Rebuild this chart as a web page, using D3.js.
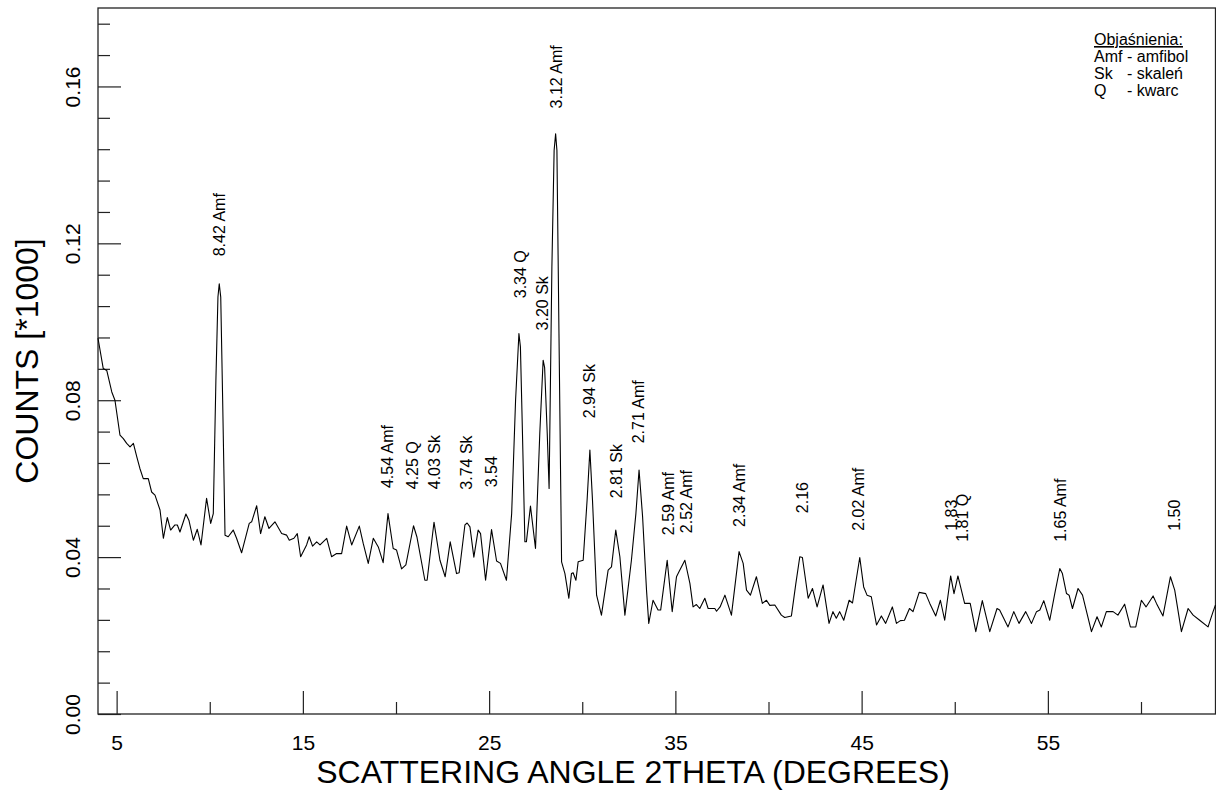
<!DOCTYPE html>
<html>
<head>
<meta charset="utf-8">
<script src="https://cdn.jsdelivr.net/npm/d3@7"></script>
<style>
  body { margin: 0; background: #fff; }
  text { font-family: "Liberation Sans", Arial, Helvetica, sans-serif; fill: #000; }
</style>
</head>
<body>
<div id="chart"></div>
<script>
// 2theta (degrees)
var twoTheta = [4.00,4.28,4.47,4.74,4.91,5.18,5.36,5.54,5.72,5.90,6.08,6.25,6.43,6.70,6.88,7.06,7.33,7.51,7.72,7.90,
  8.13,8.26,8.40,8.72,8.88,9.12,9.33,9.53,9.83,10.05,10.19,10.33,10.44,10.51,10.59,10.69,10.82,10.99,11.26,11.44,
  11.71,12.12,12.25,12.52,12.73,12.96,13.18,13.50,13.86,14.13,14.27,14.52,14.70,14.88,15.20,15.34,15.52,15.74,15.92,16.28,
  16.54,16.81,17.08,17.35,17.62,18.03,18.24,18.51,18.78,19.05,19.31,19.57,19.85,20.03,20.30,20.53,20.94,21.12,21.55,21.67,
  22.04,22.36,22.64,22.91,23.25,23.39,23.70,23.82,23.97,24.18,24.41,24.54,24.81,25.13,25.40,25.61,25.93,26.21,26.42,26.60,
  26.68,26.79,26.92,27.00,27.22,27.49,27.72,27.90,27.98,28.12,28.22,28.37,28.49,28.57,28.64,28.75,28.89,29.07,29.28,29.42,
  29.51,29.66,29.78,30.05,30.26,30.41,30.55,30.77,31.03,31.39,31.57,31.80,32.02,32.29,32.64,32.88,33.05,33.24,33.45,33.57,
  33.80,34.07,34.21,34.56,34.83,35.06,35.20,35.51,35.78,35.95,36.13,36.31,36.58,36.76,37.12,37.21,37.40,37.66,38.01,38.42,
  38.64,38.82,39.03,39.35,39.67,39.89,40.07,40.34,40.69,40.87,41.23,41.46,41.68,41.82,42.13,42.36,42.61,42.93,43.25,43.46,
  43.64,43.82,44.04,44.33,44.51,44.90,45.11,45.29,45.52,45.80,46.06,46.29,46.65,46.87,47.08,47.30,47.57,47.76,48.09,48.44,
  48.66,48.98,49.23,49.46,49.78,49.96,50.17,50.53,50.83,51.13,51.48,51.88,52.27,52.41,52.86,53.17,53.45,53.81,54.12,54.39,
  54.57,54.78,55.10,55.37,55.64,55.78,56.00,56.14,56.32,56.62,56.86,57.34,57.64,57.87,58.14,58.50,58.76,59.12,59.43,59.72,
  60.02,60.27,60.65,60.83,61.18,61.58,61.81,62.17,62.53,62.80,63.15,63.60,63.87,64.00];

// counts [*1000]
var counts = [0.0958,0.0881,0.0876,0.0821,0.0800,0.0711,0.0702,0.0690,0.0681,0.0690,0.0656,0.0626,0.0600,0.0600,0.0566,0.0558,0.0520,0.0448,0.0501,0.0469,
  0.0482,0.0482,0.0464,0.0510,0.0494,0.0443,0.0471,0.0431,0.0550,0.0486,0.0511,0.0851,0.1063,0.1097,0.1063,0.0808,0.0456,0.0452,0.0469,0.0448,
  0.0411,0.0486,0.0490,0.0531,0.0460,0.0503,0.0473,0.0490,0.0460,0.0456,0.0443,0.0448,0.0460,0.0401,0.0431,0.0452,0.0428,0.0439,0.0431,0.0448,
  0.0401,0.0409,0.0409,0.0479,0.0431,0.0479,0.0435,0.0384,0.0448,0.0426,0.0386,0.0511,0.0422,0.0418,0.0370,0.0380,0.0480,0.0452,0.0341,0.0341,
  0.0489,0.0392,0.0350,0.0439,0.0358,0.0360,0.0482,0.0487,0.0477,0.0400,0.0469,0.0460,0.0341,0.0470,0.0390,0.0384,0.0341,0.0511,0.0800,0.0970,
  0.0936,0.0715,0.0439,0.0439,0.0530,0.0422,0.0715,0.0902,0.0883,0.0715,0.0575,0.1140,0.1437,0.1479,0.1437,0.0970,0.0388,0.0358,0.0295,0.0358,
  0.0360,0.0341,0.0388,0.0392,0.0545,0.0673,0.0545,0.0303,0.0252,0.0367,0.0375,0.0469,0.0401,0.0252,0.0392,0.0511,0.0622,0.0503,0.0316,0.0231,
  0.0290,0.0265,0.0265,0.0392,0.0261,0.0350,0.0363,0.0392,0.0333,0.0273,0.0279,0.0269,0.0295,0.0269,0.0269,0.0262,0.0273,0.0303,0.0252,0.0414,
  0.0384,0.0316,0.0303,0.0350,0.0282,0.0290,0.0277,0.0278,0.0252,0.0246,0.0250,0.0330,0.0401,0.0399,0.0295,0.0320,0.0273,0.0329,0.0231,0.0261,
  0.0244,0.0261,0.0239,0.0290,0.0283,0.0399,0.0324,0.0303,0.0299,0.0227,0.0250,0.0231,0.0273,0.0231,0.0238,0.0239,0.0269,0.0261,0.0310,0.0307,
  0.0282,0.0250,0.0290,0.0239,0.0352,0.0307,0.0352,0.0282,0.0282,0.0210,0.0289,0.0210,0.0269,0.0265,0.0222,0.0261,0.0231,0.0261,0.0231,0.0261,
  0.0265,0.0289,0.0239,0.0307,0.0371,0.0358,0.0307,0.0303,0.0269,0.0320,0.0303,0.0210,0.0248,0.0222,0.0261,0.0261,0.0252,0.0280,0.0222,0.0222,
  0.0290,0.0273,0.0301,0.0282,0.0250,0.0350,0.0316,0.0210,0.0269,0.0252,0.0239,0.0222,0.0261,0.0278];

// peak annotations: d-spacing label, 2theta position, level where label starts
var peakLabels = ["8.42 Amf","4.54 Amf","4.25 Q","4.03 Sk","3.74 Sk","3.54","3.34 Q","3.20 Sk","3.12 Amf","2.94 Sk",
  "2.81 Sk","2.71 Amf","2.59 Amf","2.52 Amf","2.34 Amf","2.16","2.02 Amf","1.83","1.81 Q","1.65 Amf","1.50"];
var peakTheta = [10.50,19.54,20.88,22.04,23.77,25.13,26.67,27.86,28.59,30.38,
  31.82,33.03,34.60,35.60,38.44,41.79,44.83,49.79,50.38,55.66,61.80];
var peakLabelLevel = [0.1167,0.0576,0.0573,0.0573,0.0572,0.0578,0.1060,0.0978,0.1544,0.0754,
  0.0550,0.0690,0.0456,0.0461,0.0477,0.0512,0.0467,0.0467,0.0439,0.0439,0.0467];

var xMajorTicks = [5, 15, 25, 35, 45, 55];
var xMinorTicks = [10, 20, 30, 40, 50, 60];
var yMajorTicks = [0, 0.04, 0.08, 0.12, 0.16];

var legendTitle = "Objaśnienia:";
var legendAbbr = ["Amf", "Sk", "Q"];
var legendDesc = ["- amfibol", "- skaleń", "- kwarc"];

var width = 1216, height = 791;
var margin = {left: 98, right: 0.5, top: 8, bottom: 77};

var svg = d3.select("#chart").append("svg")
  .attr("width", width)
  .attr("height", height);

svg.append("rect").attr("width", width).attr("height", height).attr("fill", "#fff");

var x = d3.scaleLinear().domain([4, 64]).range([margin.left, width - margin.right]);
var y = d3.scaleLinear().domain([0, 0.18]).range([height - margin.bottom, margin.top]);

// minor y ticks every 0.008
var yMinorTicks = d3.range(1, 23).filter(function (i) { return i % 5 !== 0; })
  .map(function (i) { return i * 0.008; });

// axes (ticks point into the plot)
var yMinor = svg.append("g").attr("transform", "translate(" + margin.left + ",0)")
  .call(d3.axisLeft(y).tickValues(yMinorTicks).tickSize(-12).tickFormat(""));
var yMajor = svg.append("g").attr("transform", "translate(" + margin.left + ",0)")
  .call(d3.axisLeft(y).tickValues(yMajorTicks).tickSize(-23).tickFormat(d3.format(".2f")));
var xMinor = svg.append("g").attr("transform", "translate(0," + y(0) + ")")
  .call(d3.axisBottom(x).tickValues(xMinorTicks).tickSize(-12).tickFormat(""));
var xMajor = svg.append("g").attr("transform", "translate(0," + y(0) + ")")
  .call(d3.axisBottom(x).tickValues(xMajorTicks).tickSize(-23).tickFormat(d3.format("d")));

[yMinor, yMajor, xMinor, xMajor].forEach(function (g) {
  g.select(".domain").remove();
  g.selectAll(".tick line").attr("stroke", "#222").attr("stroke-width", 1.2);
});

yMajor.selectAll(".tick text")
  .attr("transform", "rotate(-90)")
  .attr("x", 0).attr("y", -18).attr("dy", 0)
  .attr("text-anchor", "middle")
  .style("font-size", "21px")
  .attr("fill", "#000");

xMajor.selectAll(".tick text")
  .attr("y", 36).attr("dy", 0)
  .style("font-size", "21px")
  .attr("fill", "#000");

// frame
svg.append("rect")
  .attr("x", x(4)).attr("y", y(0.18))
  .attr("width", x(64) - x(4)).attr("height", y(0) - y(0.18))
  .attr("fill", "none").attr("stroke", "#222").attr("stroke-width", 1.3);

// diffraction trace
var pts = twoTheta.map(function (t, i) { return [t, counts[i]]; });
var line = d3.line()
  .x(function (d) { return x(d[0]); })
  .y(function (d) { return y(d[1]); });

svg.append("path")
  .datum(pts)
  .attr("d", line)
  .attr("fill", "none")
  .attr("stroke", "#000")
  .attr("stroke-width", 1.1)
  .attr("stroke-linejoin", "round");

// peak labels, rotated
svg.selectAll("text.peak")
  .data(peakLabels)
  .enter()
  .append("text")
    .attr("class", "peak")
    .attr("transform", function (d, i) {
      return "translate(" + x(peakTheta[i]) + "," + y(peakLabelLevel[i]) + ") rotate(-90)";
    })
    .attr("dy", "0.36em")
    .style("font-size", "16px")
    .text(function (d) { return d; });

// axis titles
svg.append("text")
  .attr("x", 633).attr("y", 783)
  .attr("text-anchor", "middle")
  .style("font-size", "32px")
  .text("SCATTERING ANGLE 2THETA (DEGREES)");

svg.append("text")
  .attr("transform", "translate(38," + ((y(0) + y(0.18)) / 2) + ") rotate(-90)")
  .attr("text-anchor", "middle")
  .style("font-size", "32px")
  .text("COUNTS [*1000]");

// legend
var lg = svg.append("g").attr("transform", "translate(1094,45)");
lg.append("text")
  .style("font-size", "16px")
  .style("text-decoration", "underline")
  .text(legendTitle);

var amfW = 0;
var abbr = lg.selectAll("text.abbr")
  .data(legendAbbr)
  .enter()
  .append("text")
    .attr("class", "abbr")
    .attr("y", function (d, i) { return (i + 1) * 17; })
    .style("font-size", "16px")
    .text(function (d) { return d; });
abbr.each(function () { amfW = Math.max(amfW, this.getComputedTextLength()); });

lg.selectAll("text.desc")
  .data(legendDesc)
  .enter()
  .append("text")
    .attr("class", "desc")
    .attr("x", amfW + 4.5)
    .attr("y", function (d, i) { return (i + 1) * 17; })
    .style("font-size", "16px")
    .text(function (d) { return d; });
</script>
</body>
</html>
